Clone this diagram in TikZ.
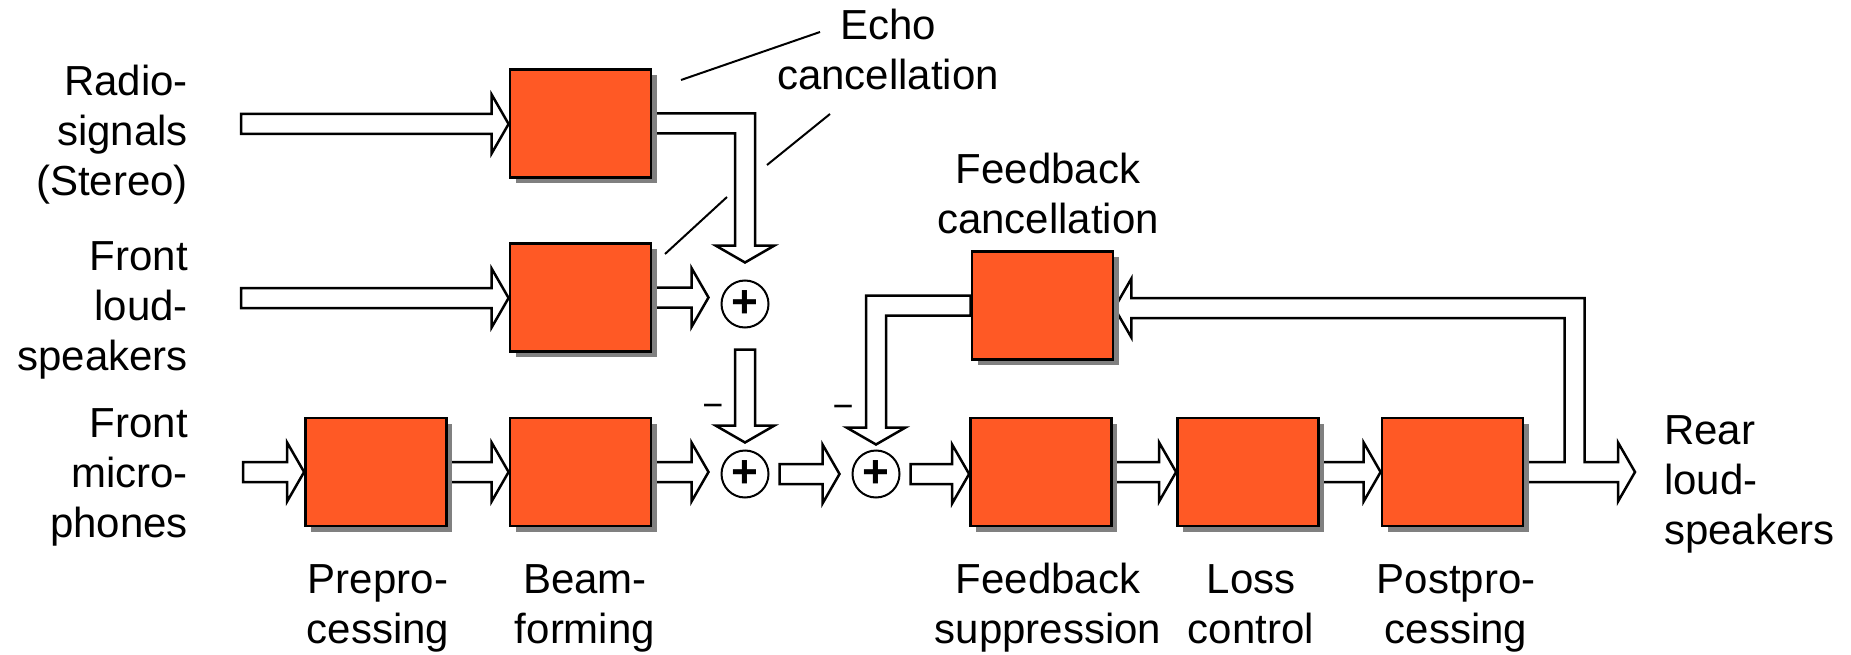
\documentclass[tikz,border=0pt]{standalone}
\usepackage{fontspec}
\setmainfont{Liberation Sans}
\usetikzlibrary{calc,shadows,backgrounds}
\definecolor{boxfill}{RGB}{255,89,37}
\definecolor{shadowgray}{RGB}{128,128,128}
\def\sw{10pt}
\def\hw{29.5pt}
\def\hl{17pt}
\tikzset{
  blk/.style={draw=black, line width=2.8pt, fill=boxfill, minimum width=141pt,
    minimum height=108pt, inner sep=0pt,
    drop shadow={shadow xshift=5.5pt, shadow yshift=-5.5pt, fill=shadowgray, opacity=1}},
  sumc/.style={circle, draw=black, line width=2pt, fill=white, minimum size=47pt,
    inner sep=0pt, font=\fontsize{46}{46}\selectfont\bfseries},
  barrow/.style={draw=black, line width=2.5pt, fill=white, line join=miter},
  lbl/.style={inner sep=0pt, font=\fontsize{42}{50}\selectfont},
  minus/.style={inner sep=0pt, font=\fontsize{36}{36}\selectfont},
  leader/.style={draw=black, line width=2pt},
}
% right-pointing block arrow: shaft y from #1, tip at x of #2
\newcommand\harrow[2]{\draw[barrow] let \p1=(#1), \p2=(#2) in
  (\x1,\y1+\sw) -- (\x2-\hl,\y1+\sw) -- (\x2-\hl,\y1+\hw) -- (\x2,\y1)
  -- (\x2-\hl,\y1-\hw) -- (\x2-\hl,\y1-\sw) -- (\x1,\y1-\sw) -- cycle;}
% down-pointing block arrow: shaft x from #1, tip at y of #2
\newcommand\varrow[2]{\draw[barrow] let \p1=(#1), \p2=(#2) in
  (\x1-\sw,\y1) -- (\x1-\sw,\y2+\hl) -- (\x1-\hw,\y2+\hl) -- (\x1,\y2)
  -- (\x1+\hw,\y2+\hl) -- (\x1+\sw,\y2+\hl) -- (\x1+\sw,\y1) -- cycle;}
\begin{document}
\begin{tikzpicture}[x=1pt,y=-1pt]
\useasboundingbox (0,0) rectangle (1851,655);
% blocks
\node[blk] (echoA)  at (580.5,123.5) {};
\node[blk] (echoB)  at (580.5,297.5) {};
\node[blk] (prepro) at (376,472) {};
\node[blk] (beam)   at (580.5,472) {};
\node[blk] (fc)     at (1042.5,305.5) {};
\node[blk] (fs)     at (1041,472) {};
\node[blk] (lc)     at (1248,472) {};
\node[blk] (pp)     at (1452.5,472) {};
% summing points
\node[sumc] (c1) at (745,304) {+};
\node[sumc] (c2) at (745,474) {+};
\node[sumc] (c3) at (876,474) {+};
% free ends
\coordinate (in1) at (241,124);
\coordinate (in2) at (241,298);
\coordinate (in3) at (243,472);
\coordinate (br)  at (1574.5,308);
\coordinate (out) at (1635,473);
\begin{scope}[on background layer]
\harrow{in1}{echoA.west}
\harrow{in2}{echoB.west}
\harrow{in3}{prepro.west}
\harrow{prepro.east}{beam.west}
\harrow{echoB.east}{[xshift=-12pt]c1.west}
\harrow{beam.east}{[xshift=-12pt]c2.west}
\harrow{[xshift=10pt]c2.east}{[xshift=-12pt]c3.west}
\harrow{[xshift=10pt]c3.east}{fs.west}
\harrow{fs.east}{lc.west}
\harrow{lc.east}{pp.west}
\varrow{[yshift=-21pt]c1.south}{[yshift=7pt]c2.north}
% echo A output bent down into c1
\draw[barrow] let \p1=(echoA.east), \p2=([yshift=17pt]c1.north) in
  (\x1,\y1+\sw) -- (\x2+\sw,\y1+\sw) -- (\x2+\sw,\y2+\hl) -- (\x2+\hw,\y2+\hl)
  -- (\x2,\y2) -- (\x2-\hw,\y2+\hl) -- (\x2-\sw,\y2+\hl) -- (\x2-\sw,\y1-\sw)
  -- (\x1,\y1-\sw) -- cycle;
% feedback cancellation output bent down into c3
\draw[barrow] let \p1=(fc.west), \p2=([yshift=5pt]c3.north) in
  (\x1,\y1+\sw) -- (\x2-\sw,\y1+\sw) -- (\x2-\sw,\y2+\hl) -- (\x2-\hw,\y2+\hl)
  -- (\x2,\y2) -- (\x2+\hw,\y2+\hl) -- (\x2+\sw,\y2+\hl) -- (\x2+\sw,\y1-\sw)
  -- (\x1,\y1-\sw) -- cycle;
% postprocessing output with feedback branch
\draw[barrow] let \p1=(pp.east), \p2=(fc.east), \p3=(br), \p4=(out) in
  (\x1,\y1+\sw) -- (\x3-\sw,\y1+\sw) -- (\x3-\sw,\y3-\sw) -- (\x2+\hl,\y3-\sw)
  -- (\x2+\hl,\y3-\hw) -- (\x2,\y3) -- (\x2+\hl,\y3+\hw) -- (\x2+\hl,\y3+\sw)
  -- (\x3+\sw,\y3+\sw) -- (\x3+\sw,\y1+\sw) -- (\x4-\hl,\y1+\sw)
  -- (\x4-\hl,\y1+\hw) -- (\x4,\y1) -- (\x4-\hl,\y1-\hw) -- (\x4-\hl,\y1-\sw)
  -- (\x1,\y1-\sw) -- cycle;
\end{scope}
% minus signs
\node[minus] (m1) at (713,411) {−};
\node[minus] (m2) at (843,412) {−};
% labels (anchor base = baseline of last line)
\node[lbl, align=right, anchor=base east] (lradio) at (188,195) {Radio-\\signals\\(Stereo)};
\node[lbl, align=right, anchor=base east] (lfront) at (188,370) {Front\\loud-\\speakers};
\node[lbl, align=right, anchor=base east] (lmic) at (188,537) {Front\\micro-\\phones};
\node[lbl, align=center, anchor=base] (lprepro) at (378,643) {Prepro-\\cessing};
\node[lbl, align=center, anchor=base] (lbeam) at (585,643) {Beam-\\forming};
\node[lbl, align=center, anchor=base] (lfs) at (1048,643) {Feedback\\suppression};
\node[lbl, align=center, anchor=base] (llc) at (1251,643) {Loss\\control};
\node[lbl, align=center, anchor=base] (lpp) at (1456,643) {Postpro-\\cessing};
\node[lbl, align=left, anchor=base west] (lrear) at (1664,544) {Rear\\loud-\\speakers};
\node[lbl, align=center, anchor=base] (lecho) at (888,90) {Echo\\cancellation};
\node[lbl, align=center, anchor=base] (lfc) at (1048,233) {Feedback\\cancellation};
% leader lines
\coordinate (e1a) at (681,80);  \coordinate (e1b) at (820,32);
\coordinate (e2a) at (767,165); \coordinate (e2b) at (830,114);
\coordinate (e3a) at (665,254); \coordinate (e3b) at (727,197);
\draw[leader] (e1a) -- (e1b);
\draw[leader] (e2a) -- (e2b);
\draw[leader] (e3a) -- (e3b);
\end{tikzpicture}
\end{document}
